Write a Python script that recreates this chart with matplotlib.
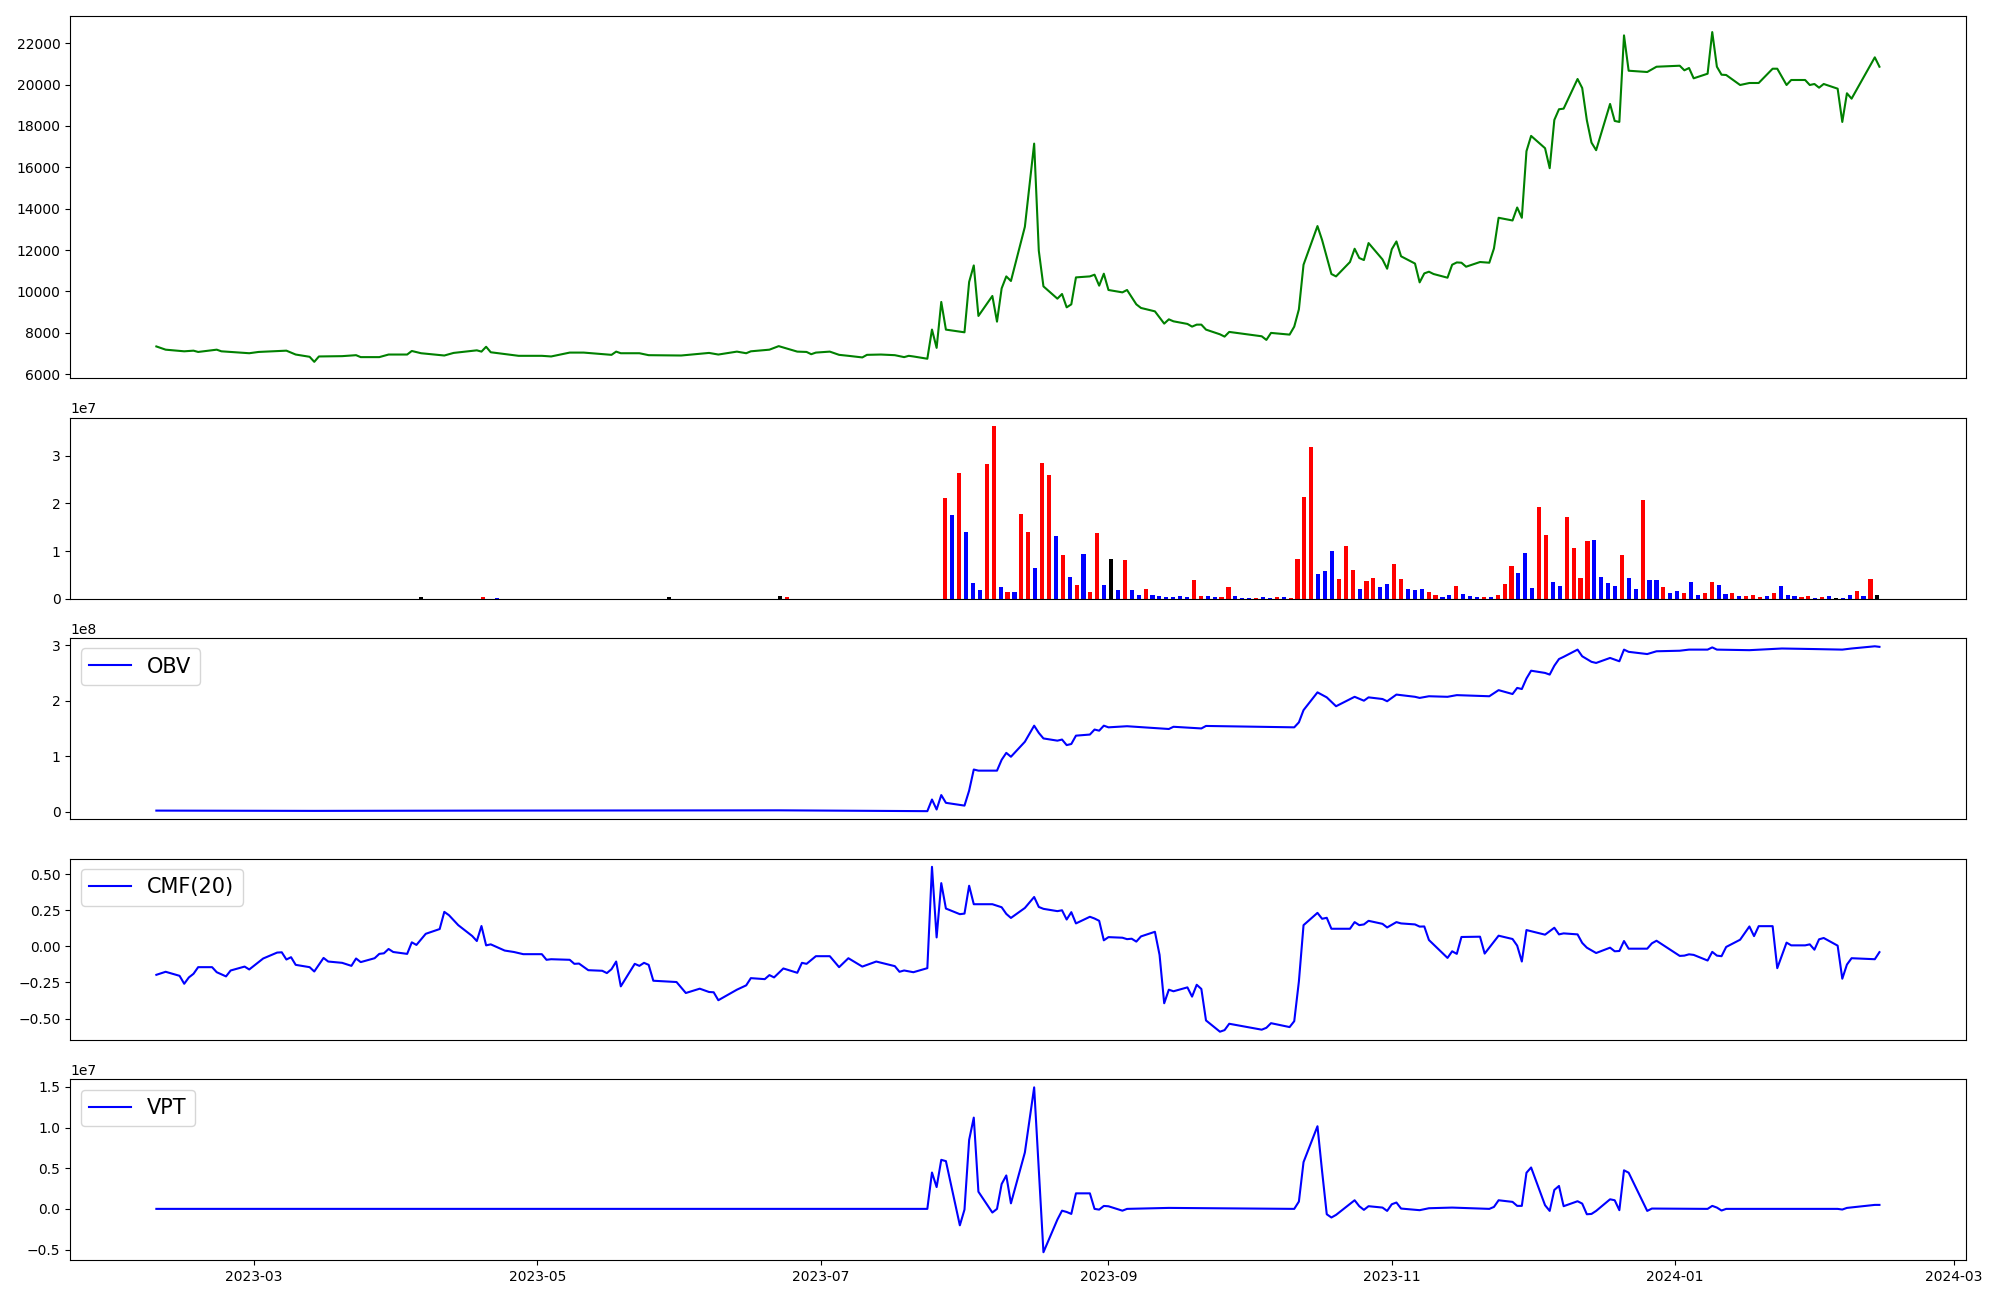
import numpy as np
import pandas as pd
import matplotlib
matplotlib.use("Agg")
import matplotlib.pyplot as plt
import matplotlib.dates as mdates

# ---------------- price (close) ----------------
price_dates = [
    "2023-02-08", "2023-02-10", "2023-02-14", "2023-02-16", "2023-02-17", "2023-02-21", "2023-02-22",
    "2023-02-28", "2023-03-02", "2023-03-08", "2023-03-10", "2023-03-13", "2023-03-14", "2023-03-15",
    "2023-03-20", "2023-03-23", "2023-03-24", "2023-03-28", "2023-03-30", "2023-04-03", "2023-04-04",
    "2023-04-06", "2023-04-11", "2023-04-13", "2023-04-18", "2023-04-19", "2023-04-20", "2023-04-21",
    "2023-04-27", "2023-05-02", "2023-05-04", "2023-05-08", "2023-05-11", "2023-05-17", "2023-05-18",
    "2023-05-19", "2023-05-23", "2023-05-25", "2023-06-01", "2023-06-07", "2023-06-09", "2023-06-13",
    "2023-06-15", "2023-06-16", "2023-06-20", "2023-06-22", "2023-06-26", "2023-06-28", "2023-06-29",
    "2023-06-30", "2023-07-03", "2023-07-05", "2023-07-07", "2023-07-10", "2023-07-11", "2023-07-14",
    "2023-07-17", "2023-07-19", "2023-07-20", "2023-07-21", "2023-07-24", "2023-07-25", "2023-07-26",
    "2023-07-27", "2023-07-28", "2023-08-01", "2023-08-02", "2023-08-03", "2023-08-04", "2023-08-07",
    "2023-08-08", "2023-08-09", "2023-08-10", "2023-08-11", "2023-08-14", "2023-08-16", "2023-08-17",
    "2023-08-18", "2023-08-21", "2023-08-22", "2023-08-23", "2023-08-24", "2023-08-25", "2023-08-28",
    "2023-08-29", "2023-08-30", "2023-08-31", "2023-09-01", "2023-09-04", "2023-09-05", "2023-09-07",
    "2023-09-08", "2023-09-11", "2023-09-13", "2023-09-14", "2023-09-15", "2023-09-18", "2023-09-19",
    "2023-09-20", "2023-09-21", "2023-09-22", "2023-09-25", "2023-09-26", "2023-09-27", "2023-10-04",
    "2023-10-05", "2023-10-06", "2023-10-10", "2023-10-11", "2023-10-12", "2023-10-13", "2023-10-16",
    "2023-10-17", "2023-10-19", "2023-10-20", "2023-10-23", "2023-10-24", "2023-10-25", "2023-10-26",
    "2023-10-27", "2023-10-30", "2023-10-31", "2023-11-01", "2023-11-02", "2023-11-03", "2023-11-06",
    "2023-11-07", "2023-11-08", "2023-11-09", "2023-11-10", "2023-11-13", "2023-11-14", "2023-11-15",
    "2023-11-16", "2023-11-17", "2023-11-20", "2023-11-22", "2023-11-23", "2023-11-24", "2023-11-27",
    "2023-11-28", "2023-11-29", "2023-11-30", "2023-12-01", "2023-12-04", "2023-12-05", "2023-12-06",
    "2023-12-07", "2023-12-08", "2023-12-11", "2023-12-12", "2023-12-13", "2023-12-14", "2023-12-15",
    "2023-12-18", "2023-12-19", "2023-12-20", "2023-12-21", "2023-12-22", "2023-12-26", "2023-12-28",
    "2024-01-02", "2024-01-03", "2024-01-04", "2024-01-05", "2024-01-08", "2024-01-09", "2024-01-10",
    "2024-01-11", "2024-01-12", "2024-01-15", "2024-01-17", "2024-01-19", "2024-01-22", "2024-01-23",
    "2024-01-25", "2024-01-26", "2024-01-29", "2024-01-30", "2024-01-31", "2024-02-01", "2024-02-02",
    "2024-02-05", "2024-02-06", "2024-02-07", "2024-02-08", "2024-02-13", "2024-02-14",
]
price_values = [
    7344, 7188, 7109, 7140, 7078, 7188, 7109,
    7016, 7078, 7140, 6953, 6844, 6600, 6860,
    6875, 6922, 6828, 6828, 6953, 6953, 7125,
    7016, 6906, 7031, 7156, 7094, 7328, 7063,
    6891, 6891, 6860, 7047, 7047, 6938, 7094,
    7016, 7016, 6922, 6906, 7031, 6953, 7094,
    7016, 7109, 7188, 7359, 7094, 7078, 6969,
    7047, 7094, 6938, 6891, 6813, 6938, 6953,
    6922, 6828, 6891, 6860, 6750, 8160, 7274,
    9494, 8157, 8027, 10459, 11260, 8818, 9783,
    8543, 10150, 10729, 10507, 13127, 17146, 11969,
    10247, 9653, 9879, 9233, 9378, 10681, 10729,
    10811, 10281, 10859, 10072, 9957, 10072, 9378,
    9204, 9040, 8447, 8654, 8558, 8432, 8302,
    8398, 8398, 8157, 7931, 7819, 8046, 7835,
    7660, 7998, 7916, 8302, 9137, 11293, 13161,
    12485, 10844, 10729, 11424, 12065, 11617, 11520,
    12340, 11550, 11100, 12040, 12418, 11700, 11350,
    10440, 10874, 10955, 10844, 10666, 11293, 11404,
    11390, 11197, 11424, 11390, 12080, 13561, 13431,
    14058, 13561, 16779, 17518, 16924, 15959, 18290,
    18806, 18835, 20268, 19834, 18275, 17194, 16828,
    19062, 18241, 18193, 22376, 20668, 20606, 20861,
    20910, 20688, 20799, 20301, 20524, 22535, 20861,
    20476, 20461, 19978, 20075, 20075, 20765, 20765,
    19978, 20220, 20220, 19978, 20027, 19849, 20027,
    19800, 18193, 19578, 19318, 21315, 20861,
]

# ---------------- volume (one bar per trading day, millions of shares) ----------------
volume_millions = [
    0.02, 0.01, 0.02, 0.01, 0.01, 0.02, 0.01, 0.01, 0.02, 0.01, 0.01, 0.02, 0.01, 0.01, 0.01, 0.02, 0.01, 0.01, 0.02, 0.01,
    0.01, 0.02, 0.01, 0.01, 0.01, 0.02, 0.01, 0.01, 0.02, 0.01, 0.01, 0.02, 0.01, 0.01, 0.01, 0.02, 0.01, 0.02, 0.30, 0.02,
    0.01, 0.01, 0.02, 0.01, 0.01, 0.02, 0.02, 0.40, 0.03, 0.22, 0.01, 0.01, 0.02, 0.01, 0.01, 0.02, 0.01, 0.01, 0.01, 0.02,
    0.01, 0.01, 0.02, 0.01, 0.01, 0.02, 0.01, 0.01, 0.02, 0.01, 0.01, 0.01, 0.02, 0.01, 0.30, 0.02, 0.01, 0.01, 0.02, 0.01,
    0.01, 0.02, 0.01, 0.01, 0.02, 0.01, 0.01, 0.02, 0.01, 0.02, 0.50, 0.30, 0.02, 0.01, 0.01, 0.02, 0.01, 0.01, 0.02, 0.01,
    0.01, 0.02, 0.01, 0.01, 0.02, 0.01, 0.01, 0.02, 0.01, 0.01, 0.02, 0.01, 0.01, 0.02,
    21.1, 17.6, 26.3, 14.0, 3.3, 1.9,
    28.2, 36.2, 2.5, 1.5, 1.5, 17.8, 14.0, 6.5, 28.4, 25.9,
    13.2, 9.2, 4.6, 2.9, 9.4, 1.5, 13.8, 2.9, 8.4, 1.9,
    8.2, 1.9, 0.8, 2.1, 0.8, 0.6, 0.4, 0.4, 0.6, 0.4,
    4.0, 0.6, 0.6, 0.4, 0.4, 2.5, 0.6, 0.2, 0.2, 0.2,
    0.4, 0.2, 0.4, 0.4, 0.2, 8.4, 21.3, 31.8, 5.2, 5.9,
    10.0, 4.2, 11.1, 6.1, 2.1, 3.8, 4.4, 2.5, 3.1, 7.3,
    4.2, 2.1, 1.9, 2.1, 1.5, 0.8, 0.4, 0.8, 2.7, 1.0,
    0.6, 0.4, 0.4, 0.4, 0.8, 3.1, 6.9, 5.4, 9.6, 2.3,
    19.2, 13.4, 3.6, 2.7, 17.1, 10.7, 4.4, 12.1, 12.3, 4.6,
    3.3, 2.7, 9.2, 4.4, 2.1, 20.7, 4.0, 4.0, 2.5, 1.3,
    1.7, 1.3, 3.6, 0.8, 1.3, 3.6, 2.9, 1.0, 1.3, 0.6,
    0.6, 0.8, 0.4, 0.6, 1.3, 2.7, 0.8, 0.6, 0.4, 0.6,
    0.2, 0.4, 0.6, 0.2, 0.2, 0.8, 1.7, 0.6, 4.2, 0.8,
]
volume_colors = (
    "rbbrbrrbbr" "brrbbrbrbb" "rbrbbrrbrb" "brbbrrbrkb" "rbbrbrbrbb"
    "rbrrbbrbrb" "brbrbbrbrr" "bbrbkrbbrb" "rbrbbrbrbb" "krbrbbrbrb"
    "brbbrbrbbr" "bbrb"
    "rbrbbb"
    "rrbrbrrbrr" "brbrbrrbkb" "rbbrbbbbbb" "rrbbrrbbbr" "bbrbrrrrbb"
    "brrrbrrbbr" "rbbbrrbbrb" "bbrbrrrbbb" "rrbbrrrrbb" "bbrbbrbbrb"
    "brbbrrbbrb" "rrrbrbbbrr" "brbkbbrbrk"
)

# ---------------- OBV (x 1e8) ----------------
obv_dates = [
    "2023-02-08", "2023-03-14", "2023-04-20", "2023-06-22", "2023-07-24", "2023-07-25", "2023-07-26",
    "2023-07-27", "2023-07-28", "2023-08-01", "2023-08-02", "2023-08-03", "2023-08-04", "2023-08-08",
    "2023-08-09", "2023-08-10", "2023-08-11", "2023-08-14", "2023-08-16", "2023-08-17", "2023-08-18",
    "2023-08-21", "2023-08-22", "2023-08-23", "2023-08-24", "2023-08-25", "2023-08-28", "2023-08-29",
    "2023-08-30", "2023-08-31", "2023-09-01", "2023-09-05", "2023-09-14", "2023-09-15", "2023-09-21",
    "2023-09-22", "2023-10-11", "2023-10-12", "2023-10-13", "2023-10-16", "2023-10-18", "2023-10-20",
    "2023-10-24", "2023-10-26", "2023-10-27", "2023-10-30", "2023-10-31", "2023-11-02", "2023-11-06",
    "2023-11-07", "2023-11-09", "2023-11-13", "2023-11-15", "2023-11-22", "2023-11-24", "2023-11-27",
    "2023-11-28", "2023-11-29", "2023-11-30", "2023-12-01", "2023-12-04", "2023-12-05", "2023-12-06",
    "2023-12-07", "2023-12-08", "2023-12-11", "2023-12-12", "2023-12-14", "2023-12-15", "2023-12-18",
    "2023-12-20", "2023-12-21", "2023-12-22", "2023-12-26", "2023-12-28", "2024-01-02", "2024-01-04",
    "2024-01-08", "2024-01-09", "2024-01-10", "2024-01-17", "2024-01-24", "2024-01-31", "2024-02-06",
    "2024-02-08", "2024-02-13", "2024-02-14",
]
obv_values_e8 = [
    0.02, 0.015, 0.02, 0.025, 0.01, 0.22, 0.04,
    0.30, 0.16, 0.11, 0.38, 0.76, 0.74, 0.74,
    0.935, 1.06, 0.99, 1.26, 1.55, 1.42, 1.32,
    1.28, 1.30, 1.20, 1.22, 1.37, 1.39, 1.48,
    1.46, 1.55, 1.52, 1.54, 1.49, 1.53, 1.50,
    1.545, 1.52, 1.61, 1.83, 2.15, 2.06, 1.90,
    2.07, 2.00, 2.06, 2.03, 1.99, 2.11, 2.07,
    2.05, 2.08, 2.07, 2.10, 2.08, 2.19, 2.12,
    2.23, 2.21, 2.40, 2.54, 2.50, 2.47, 2.63,
    2.75, 2.79, 2.92, 2.80, 2.70, 2.68, 2.77,
    2.71, 2.92, 2.88, 2.84, 2.89, 2.90, 2.92,
    2.92, 2.96, 2.92, 2.91, 2.94, 2.93, 2.92,
    2.94, 2.98, 2.97,
]

# ---------------- CMF(20) ----------------
cmf_dates = [
    "2023-02-08", "2023-02-10", "2023-02-13", "2023-02-14", "2023-02-15", "2023-02-16", "2023-02-17",
    "2023-02-20", "2023-02-21", "2023-02-23", "2023-02-24", "2023-02-27", "2023-02-28", "2023-03-03",
    "2023-03-06", "2023-03-07", "2023-03-08", "2023-03-09", "2023-03-10", "2023-03-13", "2023-03-14",
    "2023-03-16", "2023-03-17", "2023-03-20", "2023-03-22", "2023-03-23", "2023-03-24", "2023-03-27",
    "2023-03-28", "2023-03-29", "2023-03-30", "2023-03-31", "2023-04-03", "2023-04-04", "2023-04-05",
    "2023-04-07", "2023-04-10", "2023-04-11", "2023-04-12", "2023-04-14", "2023-04-17", "2023-04-18",
    "2023-04-19", "2023-04-20", "2023-04-21", "2023-04-24", "2023-04-26", "2023-04-28", "2023-05-02",
    "2023-05-03", "2023-05-04", "2023-05-08", "2023-05-09", "2023-05-10", "2023-05-12", "2023-05-15",
    "2023-05-16", "2023-05-17", "2023-05-18", "2023-05-19", "2023-05-22", "2023-05-23", "2023-05-24",
    "2023-05-25", "2023-05-26", "2023-05-31", "2023-06-02", "2023-06-05", "2023-06-07", "2023-06-08",
    "2023-06-09", "2023-06-13", "2023-06-15", "2023-06-16", "2023-06-19", "2023-06-20", "2023-06-21",
    "2023-06-23", "2023-06-26", "2023-06-27", "2023-06-28", "2023-06-30", "2023-07-03", "2023-07-05",
    "2023-07-07", "2023-07-10", "2023-07-13", "2023-07-17", "2023-07-18", "2023-07-19", "2023-07-21",
    "2023-07-24", "2023-07-25", "2023-07-26", "2023-07-27", "2023-07-28", "2023-07-31", "2023-08-01",
    "2023-08-02", "2023-08-03", "2023-08-07", "2023-08-09", "2023-08-10", "2023-08-11", "2023-08-14",
    "2023-08-16", "2023-08-17", "2023-08-18", "2023-08-21", "2023-08-22", "2023-08-23", "2023-08-24",
    "2023-08-25", "2023-08-28", "2023-08-29", "2023-08-30", "2023-08-31", "2023-09-01", "2023-09-04",
    "2023-09-05", "2023-09-06", "2023-09-07", "2023-09-08", "2023-09-11", "2023-09-12", "2023-09-13",
    "2023-09-14", "2023-09-15", "2023-09-18", "2023-09-19", "2023-09-20", "2023-09-21", "2023-09-22",
    "2023-09-25", "2023-09-26", "2023-09-27", "2023-10-04", "2023-10-05", "2023-10-06", "2023-10-10",
    "2023-10-11", "2023-10-12", "2023-10-13", "2023-10-16", "2023-10-17", "2023-10-18", "2023-10-19",
    "2023-10-23", "2023-10-24", "2023-10-25", "2023-10-26", "2023-10-27", "2023-10-30", "2023-10-31",
    "2023-11-02", "2023-11-03", "2023-11-06", "2023-11-07", "2023-11-08", "2023-11-09", "2023-11-13",
    "2023-11-14", "2023-11-15", "2023-11-16", "2023-11-20", "2023-11-21", "2023-11-24", "2023-11-27",
    "2023-11-28", "2023-11-29", "2023-11-30", "2023-12-04", "2023-12-06", "2023-12-07", "2023-12-08",
    "2023-12-11", "2023-12-12", "2023-12-13", "2023-12-15", "2023-12-18", "2023-12-19", "2023-12-20",
    "2023-12-21", "2023-12-22", "2023-12-26", "2023-12-27", "2023-12-28", "2024-01-02", "2024-01-03",
    "2024-01-04", "2024-01-05", "2024-01-08", "2024-01-09", "2024-01-10", "2024-01-11", "2024-01-12",
    "2024-01-15", "2024-01-17", "2024-01-18", "2024-01-19", "2024-01-22", "2024-01-23", "2024-01-25",
    "2024-01-26", "2024-01-29", "2024-01-30", "2024-01-31", "2024-02-01", "2024-02-02", "2024-02-05",
    "2024-02-06", "2024-02-07", "2024-02-08", "2024-02-13", "2024-02-14",
]
cmf_values = [
    -0.197, -0.176, -0.204, -0.259, -0.215, -0.190, -0.144,
    -0.144, -0.179, -0.208, -0.167, -0.140, -0.160, -0.084,
    -0.043, -0.041, -0.091, -0.075, -0.128, -0.144, -0.174,
    -0.080, -0.105, -0.114, -0.135, -0.084, -0.109, -0.082,
    -0.052, -0.048, -0.018, -0.039, -0.052, 0.028, 0.010,
    0.087, 0.120, 0.239, 0.216, 0.147, 0.072, 0.037,
    0.141, 0.007, 0.014, -0.029, -0.039, -0.054, -0.054,
    -0.093, -0.089, -0.093, -0.121, -0.119, -0.165, -0.169,
    -0.185, -0.158, -0.105, -0.277, -0.121, -0.135, -0.114,
    -0.128, -0.238, -0.247, -0.323, -0.293, -0.316, -0.318,
    -0.373, -0.300, -0.270, -0.220, -0.227, -0.199, -0.215,
    -0.153, -0.183, -0.114, -0.121, -0.068, -0.068, -0.144,
    -0.082, -0.140, -0.105, -0.137, -0.176, -0.167, -0.179,
    -0.151, 0.551, 0.062, 0.438, 0.262, 0.223, 0.227,
    0.420, 0.292, 0.292, 0.271, 0.225, 0.197, 0.266,
    0.342, 0.273, 0.260, 0.244, 0.250, 0.186, 0.237,
    0.159, 0.205, 0.193, 0.177, 0.042, 0.064, 0.060,
    0.050, 0.053, 0.033, 0.069, 0.101, -0.059, -0.394,
    -0.300, -0.311, -0.284, -0.348, -0.266, -0.295, -0.513,
    -0.591, -0.580, -0.536, -0.577, -0.564, -0.532, -0.559,
    -0.518, -0.243, 0.147, 0.232, 0.191, 0.198, 0.122,
    0.122, 0.168, 0.147, 0.152, 0.177, 0.156, 0.131,
    0.168, 0.159, 0.152, 0.137, 0.138, 0.044, -0.080,
    -0.034, -0.052, 0.065, 0.067, -0.050, 0.074, 0.051,
    0.005, -0.105, 0.113, 0.081, 0.129, 0.083, 0.090,
    0.083, 0.024, -0.009, -0.046, -0.009, -0.034, -0.032,
    0.037, -0.016, -0.016, 0.021, 0.039, -0.066, -0.064,
    -0.055, -0.059, -0.098, -0.038, -0.064, -0.068, -0.004,
    0.046, 0.138, 0.071, 0.140, 0.140, -0.151, 0.026,
    0.007, 0.007, 0.014, -0.023, 0.049, 0.058, 0.005,
    -0.224, -0.126, -0.082, -0.089, -0.040,
]

# ---------------- VPT (x 1e7) ----------------
vpt_dates = [
    "2023-02-08", "2023-07-24", "2023-07-25", "2023-07-26", "2023-07-27", "2023-07-28", "2023-07-31",
    "2023-08-01", "2023-08-02", "2023-08-03", "2023-08-04", "2023-08-07", "2023-08-08", "2023-08-09",
    "2023-08-10", "2023-08-11", "2023-08-14", "2023-08-16", "2023-08-18", "2023-08-21", "2023-08-22",
    "2023-08-23", "2023-08-24", "2023-08-25", "2023-08-28", "2023-08-29", "2023-08-30", "2023-08-31",
    "2023-09-01", "2023-09-04", "2023-09-05", "2023-09-14", "2023-10-11", "2023-10-12", "2023-10-13",
    "2023-10-16", "2023-10-17", "2023-10-18", "2023-10-19", "2023-10-20", "2023-10-24", "2023-10-25",
    "2023-10-26", "2023-10-27", "2023-10-30", "2023-10-31", "2023-11-01", "2023-11-02", "2023-11-03",
    "2023-11-07", "2023-11-09", "2023-11-14", "2023-11-22", "2023-11-23", "2023-11-24", "2023-11-27",
    "2023-11-28", "2023-11-29", "2023-11-30", "2023-12-01", "2023-12-04", "2023-12-05", "2023-12-06",
    "2023-12-07", "2023-12-08", "2023-12-11", "2023-12-12", "2023-12-13", "2023-12-14", "2023-12-15",
    "2023-12-18", "2023-12-19", "2023-12-20", "2023-12-21", "2023-12-22", "2023-12-26", "2023-12-27",
    "2024-01-08", "2024-01-09", "2024-01-10", "2024-01-11", "2024-01-12", "2024-02-05", "2024-02-06",
    "2024-02-07", "2024-02-13", "2024-02-14",
]
vpt_values_e7 = [
    0.0, 0.0, 0.447, 0.268, 0.603, 0.587, -0.202,
    -0.009, 0.848, 1.122, 0.211, -0.045, 0.0, 0.305,
    0.411, 0.068, 0.693, 1.494, -0.533, -0.132, -0.022,
    -0.038, -0.062, 0.191, 0.191, 0.0, -0.009, 0.036,
    0.032, -0.022, 0.0, 0.012, 0.0, 0.09, 0.575,
    1.016, 0.46, -0.066, -0.106, -0.074, 0.106, 0.033,
    -0.012, 0.033, 0.016, -0.025, 0.057, 0.078, 0.004,
    -0.016, 0.008, 0.016, 0.0, 0.024, 0.106, 0.086,
    0.037, 0.037, 0.444, 0.509, 0.045, -0.025, 0.233,
    0.282, 0.033, 0.094, 0.065, -0.066, -0.062, -0.025,
    0.118, 0.106, -0.016, 0.474, 0.445, -0.025, 0.004,
    0.0, 0.037, 0.016, -0.020, 0.0, 0.0, -0.008,
    0.012, 0.049, 0.049,
]

# ---------------- figure ----------------
fig = plt.figure(figsize=(20, 13), dpi=100)
gs = fig.add_gridspec(5, 1, height_ratios=[2, 1, 1, 1, 1],
                      left=0.0351, right=0.9828, top=0.988, bottom=0.0304, hspace=0.18)
ax_price = fig.add_subplot(gs[0])
ax_vol = fig.add_subplot(gs[1])
ax_obv = fig.add_subplot(gs[2], sharex=ax_price)
ax_cmf = fig.add_subplot(gs[3], sharex=ax_price)
ax_vpt = fig.add_subplot(gs[4], sharex=ax_price)

ax_price.plot(pd.to_datetime(price_dates), price_values, color="green", linewidth=1.5)

color_map = {"r": "red", "b": "blue", "k": "black"}
vol = np.array(volume_millions) * 1e6
ax_vol.bar(np.arange(len(vol)), vol, width=0.6,
           color=[color_map[c] for c in volume_colors])
ax_vol.set_xticks([])

ax_obv.plot(pd.to_datetime(obv_dates), np.array(obv_values_e8) * 1e8, color="blue", label="OBV")
ax_obv.legend(loc="upper left", fontsize=15)

ax_cmf.plot(pd.to_datetime(cmf_dates), cmf_values, color="blue", label="CMF(20)")
ax_cmf.legend(loc="upper left", fontsize=15)

ax_vpt.plot(pd.to_datetime(vpt_dates), np.array(vpt_values_e7) * 1e7, color="blue", label="VPT")
ax_vpt.legend(loc="upper left", fontsize=15)

for ax in (ax_price, ax_obv, ax_cmf):
    ax.tick_params(axis="x", bottom=False, labelbottom=False)

ax_vpt.xaxis.set_major_locator(mdates.MonthLocator(bymonth=[1, 3, 5, 7, 9, 11]))
ax_vpt.xaxis.set_major_formatter(mdates.DateFormatter("%Y-%m"))

fig.savefig("out.png", dpi=100)
